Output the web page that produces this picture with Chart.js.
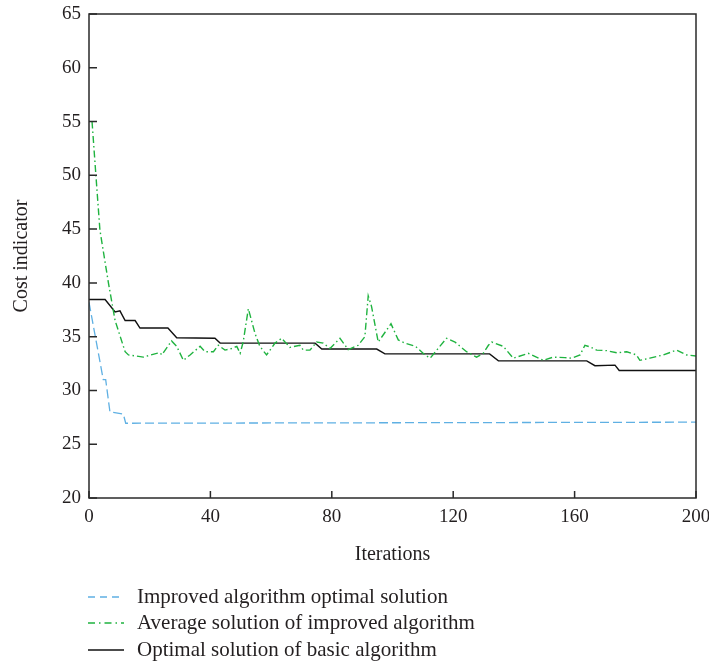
<!DOCTYPE html>
<html>
<head>
<meta charset="utf-8">
<script src="https://cdn.jsdelivr.net/npm/chart.js@4/dist/chart.umd.min.js"></script>
<style>
html,body{margin:0;padding:0;background:#fff;}
#wrap{width:709px;height:665px;position:relative;}
</style>
</head>
<body>
<div id="wrap"><canvas id="c" width="709" height="665"></canvas></div>
<script>
// ---- data ----
const xTicks = [0, 40, 80, 120, 160, 200];
const yTicks = [20, 25, 30, 35, 40, 45, 50, 55, 60, 65];
const seriesNames = [
  "Improved algorithm optimal solution",
  "Average solution of improved algorithm",
  "Optimal solution of basic algorithm"
];
const improvedIter = [0, 4.7, 5.5, 6.9, 11.3, 12.1, 200];
const improvedCost = [38.2, 31.0, 31.0, 28.0, 27.8, 26.95, 27.05];

const avgIter = [1, 2.3, 3.6, 6.4, 8.6, 11.9, 13, 17.9, 22.3, 23.4, 24, 27.2, 28.9, 31.1, 33.3, 36.6, 38.2, 41, 42.6, 44.8, 47, 48.7, 49.8, 50.8, 52.5, 54.7, 56.3, 58.5, 61.3, 63.5, 66.2, 69.5, 70.6, 72.8, 75, 77.2, 79.4, 82.7, 85.4, 88.7, 90.9, 92, 93.1, 95.3, 99.5, 101.9, 104.1, 107.6, 110.7, 112.4, 117.8, 120.6, 124.4, 127.7, 129.9, 131.6, 132.7, 136.5, 139.8, 144.7, 149.7, 153, 156.8, 159, 161.8, 163.4, 165.1, 167.3, 170.6, 173.9, 177.2, 180.4, 181.5, 184.8, 189.2, 193.6, 196.9, 200];
const avgCost = [55, 49.9, 44.9, 40.0, 36.5, 33.6, 33.3, 33.1, 33.45, 33.5, 33.3, 34.6, 34.1, 32.8, 33.3, 34.1, 33.6, 33.6, 34.2, 33.75, 33.9, 34.1, 33.45, 34.5, 37.6, 35.3, 34.1, 33.3, 34.4, 34.85, 34.0, 34.2, 33.75, 33.75, 34.5, 34.4, 33.9, 34.85, 33.8, 34.2, 35.0, 38.8, 37.8, 34.5, 36.2, 34.7, 34.4, 34.1, 33.3, 33.0, 34.85, 34.5, 33.6, 33.1, 33.45, 34.2, 34.5, 34.1, 33.0, 33.45, 32.8, 33.1, 33.05, 33.0, 33.3, 34.2, 34.05, 33.75, 33.7, 33.5, 33.6, 33.3, 32.8, 33.0, 33.3, 33.75, 33.3, 33.2];

const basicIter = [0, 5.3, 8.6, 10.2, 11.9, 15.2, 16.8, 26, 28.9, 41.5, 43.2, 74.5, 76.7, 94.8, 97.5, 132, 134.9, 164, 166.7, 173.3, 174.7, 200];
const basicCost = [38.45, 38.45, 37.3, 37.4, 36.5, 36.5, 35.8, 35.8, 34.9, 34.85, 34.4, 34.4, 33.85, 33.85, 33.4, 33.4, 32.75, 32.75, 32.3, 32.35, 31.85, 31.85];

const pts = (xs, ys) => xs.map((x, i) => ({x: x, y: ys[i]}));

const FONT = "'Liberation Serif', 'DejaVu Serif', serif";
const TXT = '#231f20';

const boxAndTicks = {
  id: 'boxAndTicks',
  afterDraw(chart) {
    const ctx = chart.ctx, a = chart.chartArea;
    const xs = chart.scales.x, ys = chart.scales.y;
    ctx.save();
    ctx.strokeStyle = '#2a2a2a';
    ctx.lineWidth = 1.5;
    ctx.strokeRect(a.left, a.top, a.right - a.left, a.bottom - a.top);
    ctx.beginPath();
    ys.ticks.forEach(t => {
      const p = ys.getPixelForValue(t.value);
      ctx.moveTo(a.left, p); ctx.lineTo(a.left + 8, p);
    });
    xs.ticks.forEach(t => {
      const p = xs.getPixelForValue(t.value);
      ctx.moveTo(p, a.bottom); ctx.lineTo(p, a.bottom - 7);
    });
    ctx.stroke();
    // legend
    const rows = [597, 623, 650];
    chart.data.datasets.forEach((ds, i) => {
      const y = rows[i];
      ctx.beginPath();
      ctx.strokeStyle = ds.borderColor;
      ctx.lineWidth = ds.borderWidth;
      ctx.setLineDash(ds.legendDash || []);
      ctx.moveTo(88, y); ctx.lineTo(124, y);
      ctx.stroke();
      ctx.setLineDash([]);
      ctx.fillStyle = TXT;
      ctx.font = '21px ' + FONT;
      ctx.textBaseline = 'middle';
      ctx.textAlign = 'left';
      ctx.fillText(ds.label, 137, y);
    });
    ctx.restore();
  }
};

const zeroPad = s => { s.paddingTop = 0; s.paddingBottom = 0; s.paddingLeft = 0; s.paddingRight = 0; };

new Chart(document.getElementById('c'), {
  type: 'line',
  data: {
    datasets: [
      {label: seriesNames[0], data: pts(improvedIter, improvedCost), borderColor: '#5fb0e3', borderWidth: 1.3, borderDash: [9, 4], legendDash: [7, 5], pointRadius: 0, tension: 0, fill: false},
      {label: seriesNames[1], data: pts(avgIter, avgCost), borderColor: '#1fb33f', borderWidth: 1.4, borderDash: [7, 3, 1.5, 3], legendDash: [7, 4, 1.5, 4], pointRadius: 0, tension: 0, fill: false},
      {label: seriesNames[2], data: pts(basicIter, basicCost), borderColor: '#111111', borderWidth: 1.4, borderDash: [], legendDash: [], pointRadius: 0, tension: 0, fill: false}
    ]
  },
  options: {
    responsive: false,
    animation: false,
    layout: {autoPadding: false, padding: {left: 0, top: 14, right: 13, bottom: 97}},
    plugins: {legend: {display: false}, tooltip: {enabled: false}},
    scales: {
      x: {
        type: 'linear', min: 0, max: 200,
        afterBuildTicks: s => { s.ticks = xTicks.map(v => ({value: v})); },
        afterFit: s => { s.height = 70; zeroPad(s); },
        grid: {display: false, drawTicks: false},
        border: {display: false},
        ticks: {color: TXT, font: {family: FONT, size: 19}, padding: 8, maxRotation: 0},
        title: {display: true, text: 'Iterations', color: TXT, font: {family: FONT, size: 20}, padding: {top: 14, bottom: 1}}
      },
      y: {
        type: 'linear', min: 20, max: 65,
        afterBuildTicks: s => { s.ticks = yTicks.map(v => ({value: v})); },
        afterFit: s => { s.width = 89; zeroPad(s); },
        grid: {display: false, drawTicks: false},
        border: {display: false},
        ticks: {color: TXT, font: {family: FONT, size: 19}, padding: 8},
        title: {display: true, text: 'Cost indicator', color: TXT, font: {family: FONT, size: 20}, padding: {top: 10, bottom: 8}}
      }
    }
  },
  plugins: [boxAndTicks]
});
</script>
</body>
</html>
